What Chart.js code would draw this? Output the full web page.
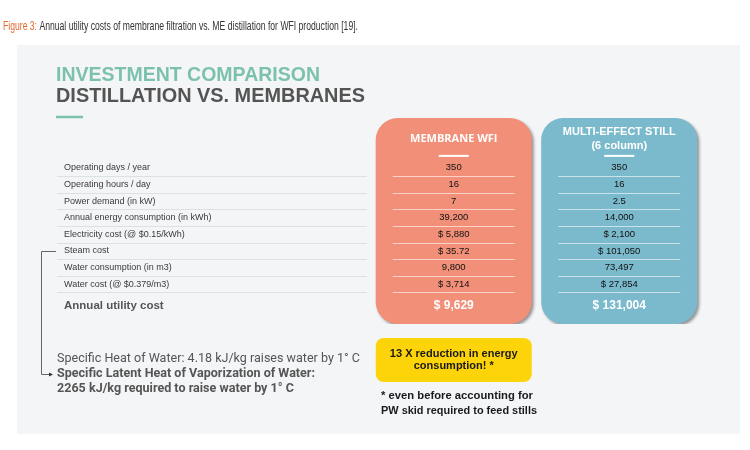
<!DOCTYPE html>
<html lang="en">
<head>
    <meta charset="UTF-8">
    <title>Distillation vs. Membranes</title>
    <script src="https://cdn.jsdelivr.net/npm/chart.js"></script>
    <style>
        html, body { margin: 0; padding: 0; background: #ffffff; }
        canvas { display: block; }
    </style>
</head>
<body>
    <canvas id="costChart" width="750" height="450"></canvas>

    <script>
        // Row labels of the comparison table
        const rowLabels = [
            'Operating days / year',
            'Operating hours / day',
            'Power demand (in kW)',
            'Annual energy consumption (in kWh)',
            'Electricity cost (@ $0.15/kWh)',
            'Steam cost',
            'Water consumption (in m3)',
            'Water cost (@ $0.379/m3)'
        ];
        const totalLabel = 'Annual utility cost';

        // Columns
        const columnNames = ['MEMBRANE WFI', 'MULTI-EFFECT STILL'];
        const columnSubtitles = ['', '(6 column)'];

        // Values per column (same order as rowLabels)
        const membraneValues = ['350', '16', '7', '39,200', '$ 5,880', '$ 35.72', '9,800', '$ 3,714'];
        const stillValues = ['350', '16', '2.5', '14,000', '$ 2,100', '$ 101,050', '73,497', '$ 27,854'];
        const totals = ['$ 9,629', '$ 131,004'];

        // Card span on the row axis (header above row 0 down past the total row)
        const cardSpan = [[-3, 9.4], [-3, 9.4]];
        const cardColors = ['#f18f78', '#7bb9cc'];

        const totalRow = 8.3;

        // helper: draw text, squeezed to a width if asked
        function drawText(ctx, str, x, y, font, color, align, width) {
            ctx.save();
            ctx.font = font;
            ctx.fillStyle = color;
            ctx.textBaseline = 'middle';
            ctx.textAlign = 'left';
            const w = ctx.measureText(str).width;
            const sx = width ? width / w : 1;
            let left = x;
            if (align === 'center') left = x - (w * sx) / 2;
            if (align === 'right') left = x - w * sx;
            ctx.translate(left, y);
            ctx.scale(sx, 1);
            ctx.fillText(str, 0, 0);
            ctx.restore();
        }

        function line(ctx, x1, y1, x2, y2, color, width) {
            ctx.save();
            ctx.strokeStyle = color;
            ctx.lineWidth = width;
            ctx.beginPath();
            ctx.moveTo(x1, y1);
            ctx.lineTo(x2, y2);
            ctx.stroke();
            ctx.restore();
        }

        const backgroundPlugin = {
            id: 'background',
            beforeDraw(chart) {
                const ctx = chart.ctx;
                ctx.save();
                ctx.fillStyle = '#ffffff';
                ctx.fillRect(0, 0, chart.width, chart.height);
                ctx.fillStyle = '#f4f5f7';
                ctx.fillRect(17, 45, 723, 389);
                ctx.restore();

                // caption
                ctx.save();
                ctx.font = '13.5px "Liberation Sans Narrow", "Liberation Sans", sans-serif';
                const part1 = 'Figure 3: ';
                const part2 = 'Annual utility costs of membrane filtration vs. ME distillation for WFI production [19].';
                const w1 = ctx.measureText(part1).width;
                const w2 = ctx.measureText(part2).width;
                const sx = 355 / (w1 + w2);
                ctx.translate(3, 26);
                ctx.scale(sx, 1);
                ctx.textBaseline = 'middle';
                ctx.fillStyle = '#e4682e';
                ctx.fillText(part1, 0, 0);
                ctx.fillStyle = '#333333';
                ctx.fillText(part2, w1, 0);
                ctx.restore();

                // titles
                drawText(ctx, 'INVESTMENT COMPARISON', 56, 75, 'bold 20px "Liberation Sans", Arial, sans-serif', '#7cc1ae', 'left', 264);
                drawText(ctx, 'DISTILLATION VS. MEMBRANES', 56, 96, 'bold 20px "Liberation Sans", Arial, sans-serif', '#545454', 'left', 309);
                line(ctx, 56, 117, 83, 117, '#7cc1ae', 2.5);
            },
            beforeDatasetsDraw(chart) {
                const ctx = chart.ctx;
                ctx.save();
                ctx.shadowColor = 'rgba(0,0,0,0.4)';
                ctx.shadowBlur = 3;
                ctx.shadowOffsetX = 2;
                ctx.shadowOffsetY = 2;
            },
            afterDatasetsDraw(chart) {
                const ctx = chart.ctx;
                ctx.restore();
                const x = chart.scales.x;
                const y = chart.scales.y;

                // row labels and separators on the left
                rowLabels.forEach((label, i) => {
                    const py = y.getPixelForValue(i);
                    drawText(ctx, label, 64, py, '9px "Liberation Sans", Arial, sans-serif', '#3a3a3a', 'left');
                    const sy = Math.round(y.getPixelForValue(i + 0.5)) + 0.5;
                    line(ctx, 57, sy, 367, sy, '#dbe2e6', 1);
                });
                drawText(ctx, totalLabel, 64, y.getPixelForValue(totalRow), 'bold 11.5px "Liberation Sans", Arial, sans-serif', '#555555', 'left');

                // card contents
                const columnValues = [membraneValues, stillValues];
                columnNames.forEach((name, c) => {
                    const cx = x.getPixelForValue(c);
                    if (columnSubtitles[c]) {
                        drawText(ctx, name, cx, y.getPixelForValue(-2.17), 'bold 11px "Liberation Sans", Arial, sans-serif', '#ffffff', 'center');
                        drawText(ctx, columnSubtitles[c], cx, y.getPixelForValue(-1.33), 'bold 11px "Liberation Sans", Arial, sans-serif', '#ffffff', 'center');
                    } else {
                        drawText(ctx, name, cx, y.getPixelForValue(-1.75), 'bold 11px "Open Sans", "Liberation Sans", sans-serif', '#ffffff', 'center');
                    }
                    const uy = y.getPixelForValue(-0.72);
                    line(ctx, cx - 15, uy, cx + 15, uy, '#ffffff', 2);

                    columnValues[c].forEach((v, i) => {
                        drawText(ctx, v, cx, y.getPixelForValue(i), '9.5px "Liberation Sans", Arial, sans-serif', '#111111', 'center');
                        const sy = Math.round(y.getPixelForValue(i + 0.5)) + 0.5;
                        line(ctx, cx - 61, sy, cx + 61, sy, 'rgba(255,255,255,0.6)', 1);
                    });
                    drawText(ctx, totals[c], cx, y.getPixelForValue(totalRow), 'bold 12px "Liberation Sans", Arial, sans-serif', '#ffffff', 'center');
                });

                // bracket from steam cost to the heat notes
                const steamY = Math.round(y.getPixelForValue(5)) + 0.5;
                ctx.save();
                ctx.strokeStyle = '#666666';
                ctx.lineWidth = 1;
                ctx.beginPath();
                ctx.moveTo(56, steamY);
                ctx.lineTo(41.5, steamY);
                ctx.lineTo(41.5, 374.5);
                ctx.lineTo(50, 374.5);
                ctx.stroke();
                ctx.fillStyle = '#333333';
                ctx.beginPath();
                ctx.moveTo(53, 374.5);
                ctx.lineTo(49, 372.5);
                ctx.lineTo(49, 376.5);
                ctx.closePath();
                ctx.fill();
                ctx.restore();

                drawText(ctx, 'Specific Heat of Water: 4.18 kJ/kg raises water by 1° C', 57, 359, '13px Roboto, sans-serif', '#555555', 'left', 303);
                drawText(ctx, 'Specific Latent Heat of Vaporization of Water:', 57, 374, 'bold 13px Roboto, sans-serif', '#555555', 'left', 258);
                drawText(ctx, '2265 kJ/kg required to raise water by 1° C', 57, 389, 'bold 13px Roboto, sans-serif', '#555555', 'left', 237);

                // yellow call-out under the membrane card
                const bx = x.getPixelForValue(0);
                ctx.save();
                ctx.fillStyle = '#fdd40a';
                ctx.beginPath();
                ctx.roundRect(bx - 78, 338, 156, 44, 8);
                ctx.fill();
                ctx.restore();
                drawText(ctx, '13 X reduction in energy', bx, 354, 'bold 11px "Liberation Sans", Arial, sans-serif', '#1a1a1a', 'center');
                drawText(ctx, 'consumption! *', bx, 366, 'bold 11px "Liberation Sans", Arial, sans-serif', '#1a1a1a', 'center');

                drawText(ctx, '* even before accounting for', 381, 396, 'bold 11px "Liberation Sans", Arial, sans-serif', '#1a1a1a', 'left', 152);
                drawText(ctx, 'PW skid required to feed stills', 381, 411, 'bold 11px "Liberation Sans", Arial, sans-serif', '#1a1a1a', 'left', 156);
            }
        };

        new Chart(document.getElementById('costChart'), {
            type: 'bar',
            data: {
                labels: columnNames,
                datasets: [{
                    data: cardSpan,
                    backgroundColor: cardColors,
                    borderRadius: 22,
                    borderSkipped: false,
                    barPercentage: 1,
                    categoryPercentage: 0.943
                }]
            },
            options: {
                responsive: false,
                animation: false,
                layout: {
                    padding: { left: 371, right: 48, top: 118, bottom: 126 }
                },
                scales: {
                    x: { display: false },
                    y: { display: false, reverse: true, min: -3, max: 9.4 }
                },
                plugins: {
                    legend: { display: false },
                    tooltip: { enabled: false }
                }
            },
            plugins: [backgroundPlugin]
        });
    </script>
</body>
</html>
